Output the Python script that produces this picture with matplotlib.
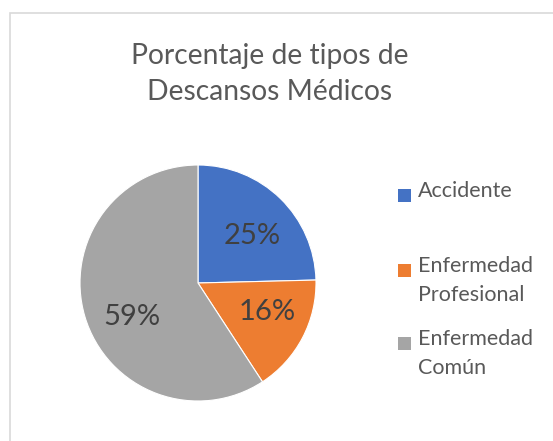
import matplotlib
matplotlib.use("Agg")
import matplotlib.pyplot as plt
from matplotlib.patches import Rectangle

# data
categories = ["Accidente", "Enfermedad\nProfesional", "Enfermedad\nComún"]
shares = [24.6, 16.2, 59.2]
colors = ["#4472C4", "#ED7D31", "#A5A5A5"]
title = "Porcentaje de tipos de\nDescansos Médicos"

W, H = 553, 441
fig = plt.figure(figsize=(W / 100, H / 100), dpi=100)
plt.rcParams['font.family'] = ['Lato', 'DejaVu Sans']

# chart border (Excel style, runs off the right/bottom edge)
fig.patches.append(Rectangle((9.5 / W, -0.1), 1.2, 1 - 13 / H + 0.1,
                             transform=fig.transFigure, fill=False,
                             edgecolor="#D9D9D9", linewidth=1.2))

# pie axes, center ~(198, 283) px, radius ~118 px
cx, cy, r = 198, 283, 118
ax = fig.add_axes([(cx - r) / W, (H - cy - r) / H, 2 * r / W, 2 * r / H])
wedges, texts, autotexts = ax.pie(
    shares, colors=colors, startangle=90, counterclock=False, radius=1,
    autopct=lambda p: f"{p:.0f}%", pctdistance=0.63,
    wedgeprops=dict(edgecolor="white", linewidth=0.8),
    textprops=dict(fontsize=21, color="#404040"))
ax.set_xlim(-1, 1)
ax.set_ylim(-1, 1)

# nudge the percentage labels to where Excel put them
label_pos = [(0.46, 0.40), (0.585, -0.25), (-0.56, -0.29)]
for t, p in zip(autotexts, label_pos):
    t.set_position(p)

fig.text(270 / W, 1 - 74 / H, title, ha="center", va="center",
         fontsize=20.3, color="#595959", linespacing=1.5)

# legend drawn by hand to match the spacing of the original
leg_y = [195, 270, 343]
for lbl, col, y in zip(categories, colors, leg_y):
    fig.patches.append(Rectangle((398 / W, 1 - (y + 6.5) / H), 13 / W, 13 / H,
                                 transform=fig.transFigure, facecolor=col,
                                 edgecolor="none"))
    fig.text(418 / W, 1 - (y - 14) / H, lbl, ha="left", va="top",
             fontsize=15.5, color="#595959", linespacing=1.55)

fig.savefig("out.png", dpi=100)
